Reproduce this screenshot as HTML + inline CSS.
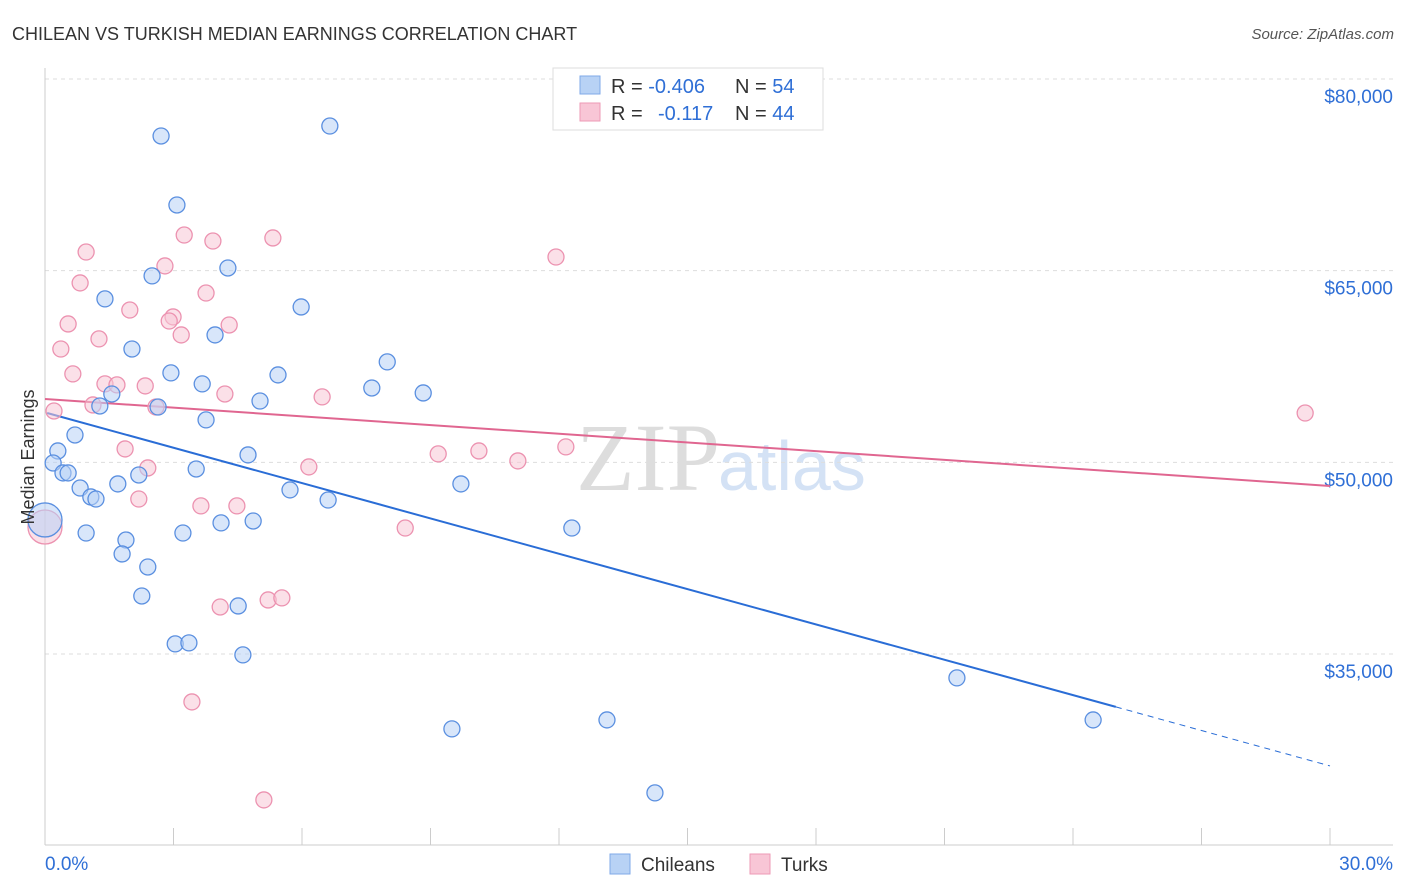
<!DOCTYPE html>
<html><head><meta charset="utf-8"><style>
body{margin:0;background:#fff;font-family:"Liberation Sans",sans-serif;}
svg{display:block}
</style></head><body>
<svg id="chart" width="1406" height="892" xmlns="http://www.w3.org/2000/svg">
<text x="12" y="40" font-size="18" fill="#333">CHILEAN VS TURKISH MEDIAN EARNINGS CORRELATION CHART</text>
<text x="1394" y="39" font-size="15" fill="#555" font-style="italic" text-anchor="end">Source: ZipAtlas.com</text>
<text x="720" y="490" font-size="96" fill="#ddd" text-anchor="end" font-family="Liberation Serif,serif">ZIP</text>
<text x="718" y="490" font-size="70" fill="#d4e2f5">atlas</text>
<g id="grid"></g><g id="axes"></g><g id="lines"></g><g id="pts"></g>
<g>
<rect x="553" y="68" width="270" height="62" fill="#fff" stroke="#ddd"/>
<rect x="580" y="76" width="20" height="18" fill="#b8d2f5" stroke="#7fa9e8"/>
<text x="611" y="93" font-size="20" fill="#333">R = <tspan fill="#2f6fd6">-0.406</tspan><tspan x="735">N = </tspan><tspan fill="#2f6fd6">54</tspan></text>
<rect x="580" y="103" width="20" height="18" fill="#f8c6d6" stroke="#ee9ab6"/>
<text x="611" y="120" font-size="20" fill="#333">R = <tspan x="658" fill="#2f6fd6">-0.117</tspan><tspan x="735">N = </tspan><tspan fill="#2f6fd6">44</tspan></text>
</g>
<g>
<rect x="610" y="854" width="20" height="20" fill="#b8d2f5" stroke="#7fa9e8"/>
<text x="641" y="871" font-size="19" fill="#333">Chileans</text>
<rect x="750" y="854" width="20" height="20" fill="#f8c6d6" stroke="#ee9ab6"/>
<text x="781" y="871" font-size="19" fill="#333">Turks</text>
</g>
<text transform="translate(34,457) rotate(-90)" font-size="18" fill="#333" text-anchor="middle">Median Earnings</text>
</svg>
<script>
const yTicks=[80000,65000,50000,35000];
const yTickLabels=["$80,000","$65,000","$50,000","$35,000"];
const xTicks=[0,3,6,9,12,15,18,21,24,27,30];
const xEndLabels=["0.0%","30.0%"];
const chileX=[2.71,6.65,3.08,4.27,2.50,1.40,5.98,3.97,2.03,7.99,2.94,3.67,7.63,5.44,8.83,1.56,1.28,2.64,5.02,3.76,0.70,0.30,0.19,0.42,0.54,4.74,2.19,3.53,0.82,1.70,1.07,1.19,5.72,6.61,9.71,0.96,3.22,4.11,4.86,12.30,1.89,1.80,2.40,2.26,4.51,3.04,3.36,4.62,21.29,24.47,13.12,9.50,14.24,0];
const chileY=[75540,76320,70140,65210,64590,62790,62160,59970,58870,57860,57000,56140,55820,56840,55430,55350,54410,54330,54800,53320,52140,50890,49950,49170,49170,50580,49010,49480,47990,48310,47290,47130,47840,47050,48310,44470,44470,45260,45410,44860,43920,42830,41810,39540,38760,35790,35870,34930,33130,29840,29840,29140,24130,45490];
const turkX=[0.96,2.80,3.25,3.92,5.32,11.93,0.82,3.76,0.54,1.98,2.99,2.90,4.30,3.18,1.26,0.37,0.65,1.40,1.68,2.34,4.20,6.47,1.12,2.59,0.21,1.87,2.40,6.16,9.18,10.13,11.04,12.16,29.42,2.19,3.64,4.48,8.41,4.09,5.21,5.53,3.43,5.11,0];
const turkY=[66460,65370,67790,67320,67560,66070,64040,63250,60830,61920,61380,61060,60750,59970,59660,58870,56920,56140,56060,55980,55350,55120,54490,54330,54020,51050,49560,49640,50660,50890,50110,51210,53860,47130,46590,46590,44860,38680,39230,39390,31250,23580,44940];
const chileTrendX=[0.05,25,30];
const chileTrendY=[53860,30860,26240];
const turkTrendX=[0,30];
const turkTrendY=[54960,48150];
const NS="http://www.w3.org/2000/svg";
const X0=45,X1=1330,Y0=79,Ymax=80000,Ymin=35000,Y35=654;
const sx=v=>X0+(v-0)/30*(X1-X0);
const sy=v=>Y0+(Ymax-v)/(Ymax-Ymin)*(Y35-Y0);
function mk(tag,attrs,parent){const e=document.createElementNS(NS,tag);for(const k in attrs)e.setAttribute(k,attrs[k]);parent.appendChild(e);return e;}
const grid=document.getElementById('grid'),axes=document.getElementById('axes'),lines=document.getElementById('lines'),pts=document.getElementById('pts');
yTicks.forEach((t,i)=>{
 const l=mk('line',{x1:45,x2:1393,y1:sy(t),y2:sy(t),stroke:'#ddd','stroke-dasharray':'4,4'},grid);
 
 
 const tx=mk('text',{x:1393,y:sy(t)+24,'font-size':19,fill:'#2f6fd6','text-anchor':'end'},axes);
 tx.textContent=yTickLabels[i];
 
 
});
const ya=mk('line',{x1:45,x2:45,y1:68,y2:845,stroke:'#ccc'},axes);


const xa=mk('line',{x1:45,x2:1393,y1:845,y2:845,stroke:'#ccc'},axes);


xTicks.forEach(t=>{
 const l=mk('line',{x1:sx(t),x2:sx(t),y1:828,y2:845,stroke:'#ccc'},axes);
 
 
});
[[0,'start',45],[30,'end',1393]].forEach((d,i)=>{
 const tx=mk('text',{x:d[2],y:870,'font-size':19,fill:'#2f6fd6','text-anchor':d[1]},axes);
 tx.textContent=xEndLabels[i];
 
 
});
function dot(x,y,fill,stroke,big){
 const c=mk('circle',{cx:sx(x),cy:sy(y),r:big?17:8,fill:fill,'fill-opacity':0.55,stroke:stroke,'stroke-width':1.3},pts);
 return c;
}
turkX.forEach((x,i)=>{const c=dot(x,turkY[i],'#f8c6d6','#ec92b0',x===0);
 
 });
chileX.forEach((x,i)=>{const c=dot(x,chileY[i],'#b8d2f5','#5a8fe0',x===0);
 
 });
const b1=mk('line',{x1:sx(chileTrendX[0]),y1:sy(chileTrendY[0]),x2:sx(chileTrendX[1]),y2:sy(chileTrendY[1]),stroke:'#2a6dd6','stroke-width':2},lines);


const b2=mk('line',{x1:sx(chileTrendX[1]),y1:sy(chileTrendY[1]),x2:sx(chileTrendX[2]),y2:sy(chileTrendY[2]),stroke:'#2a6dd6','stroke-width':1,'stroke-dasharray':'6,5'},lines);


const p1=mk('line',{x1:sx(turkTrendX[0]),y1:sy(turkTrendY[0]),x2:sx(turkTrendX[1]),y2:sy(turkTrendY[1]),stroke:'#e06690','stroke-width':2},lines);


</script>
</body></html>
